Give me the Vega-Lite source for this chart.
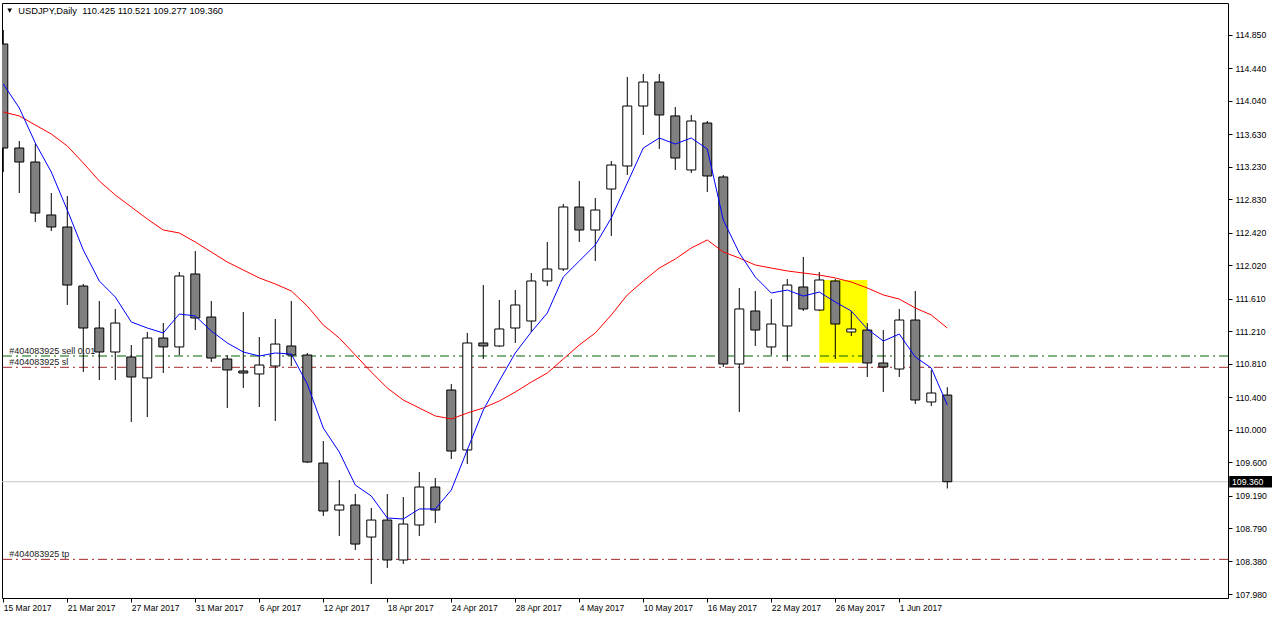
{
  "$schema": "https://vega.github.io/schema/vega-lite/v6.json",
  "autosize": "none",
  "width": 1226,
  "height": 595,
  "padding": {"left": 2, "top": 3, "right": 44, "bottom": 21},
  "background": "white",
  "config": {
    "view": {"stroke": "black", "strokeWidth": 1},
    "font": "Liberation Sans",
    "text": {"font": "Liberation Sans"},
    "axis": {"labelOverlap": false, "labelBound": false, "labelFlush": false, "grid": false, "domain": false, "title": null},
    "scale": {"continuousPadding": 0}
  },
  "datasets": {
    "bars": [
      {"i":0,"date":"2017-03-15","open":114.739,"high":114.911,"low":113.166,"close":113.461,"ma_fast":114.248,"ma_slow":113.904},
      {"i":1,"date":"2017-03-16","open":113.461,"high":113.547,"low":112.908,"close":113.289,"ma_fast":113.953,"ma_slow":113.855},
      {"i":2,"date":"2017-03-17","open":113.289,"high":113.510,"low":112.552,"close":112.662,"ma_fast":113.523,"ma_slow":113.744},
      {"i":3,"date":"2017-03-20","open":112.638,"high":112.908,"low":112.441,"close":112.490,"ma_fast":113.166,"ma_slow":113.633},
      {"i":4,"date":"2017-03-21","open":112.490,"high":112.871,"low":111.532,"close":111.777,"ma_fast":112.699,"ma_slow":113.486},
      {"i":5,"date":"2017-03-22","open":111.765,"high":111.790,"low":110.708,"close":111.249,"ma_fast":112.208,"ma_slow":113.277},
      {"i":6,"date":"2017-03-23","open":111.249,"high":111.581,"low":110.610,"close":110.954,"ma_fast":111.827,"ma_slow":113.056},
      {"i":7,"date":"2017-03-24","open":110.954,"high":111.483,"low":110.610,"close":111.310,"ma_fast":111.630,"ma_slow":112.884},
      {"i":8,"date":"2017-03-27","open":110.893,"high":111.040,"low":110.094,"close":110.647,"ma_fast":111.323,"ma_slow":112.736},
      {"i":9,"date":"2017-03-28","open":110.635,"high":111.200,"low":110.155,"close":111.126,"ma_fast":111.249,"ma_slow":112.589},
      {"i":10,"date":"2017-03-29","open":111.126,"high":111.310,"low":110.696,"close":111.016,"ma_fast":111.188,"ma_slow":112.453},
      {"i":11,"date":"2017-03-30","open":111.016,"high":111.937,"low":110.917,"close":111.888,"ma_fast":111.421,"ma_slow":112.417},
      {"i":12,"date":"2017-03-31","open":111.913,"high":112.195,"low":111.224,"close":111.372,"ma_fast":111.397,"ma_slow":112.306},
      {"i":13,"date":"2017-04-03","open":111.384,"high":111.581,"low":110.831,"close":110.880,"ma_fast":111.212,"ma_slow":112.183},
      {"i":14,"date":"2017-04-04","open":110.868,"high":110.917,"low":110.266,"close":110.733,"ma_fast":111.065,"ma_slow":112.060},
      {"i":15,"date":"2017-04-05","open":110.721,"high":111.446,"low":110.512,"close":110.696,"ma_fast":110.954,"ma_slow":111.962},
      {"i":16,"date":"2017-04-06","open":110.684,"high":111.138,"low":110.278,"close":110.794,"ma_fast":110.905,"ma_slow":111.864},
      {"i":17,"date":"2017-04-07","open":110.782,"high":111.360,"low":110.106,"close":111.052,"ma_fast":110.942,"ma_slow":111.790},
      {"i":18,"date":"2017-04-10","open":111.028,"high":111.581,"low":110.782,"close":110.917,"ma_fast":110.929,"ma_slow":111.704},
      {"i":19,"date":"2017-04-11","open":110.917,"high":110.942,"low":109.590,"close":109.602,"ma_fast":110.561,"ma_slow":111.519},
      {"i":20,"date":"2017-04-12","open":109.590,"high":109.860,"low":108.939,"close":109.000,"ma_fast":110.020,"ma_slow":111.286},
      {"i":21,"date":"2017-04-13","open":109.012,"high":109.381,"low":108.693,"close":109.074,"ma_fast":109.725,"ma_slow":111.126},
      {"i":22,"date":"2017-04-14","open":109.074,"high":109.209,"low":108.521,"close":108.594,"ma_fast":109.319,"ma_slow":110.917},
      {"i":23,"date":"2017-04-17","open":108.680,"high":109.037,"low":108.103,"close":108.889,"ma_fast":109.184,"ma_slow":110.708},
      {"i":24,"date":"2017-04-18","open":108.889,"high":109.209,"low":108.299,"close":108.398,"ma_fast":108.914,"ma_slow":110.512},
      {"i":25,"date":"2017-04-19","open":108.398,"high":109.172,"low":108.349,"close":108.840,"ma_fast":108.902,"ma_slow":110.364},
      {"i":26,"date":"2017-04-20","open":108.828,"high":109.479,"low":108.693,"close":109.295,"ma_fast":109.025,"ma_slow":110.266},
      {"i":27,"date":"2017-04-21","open":109.295,"high":109.406,"low":108.852,"close":109.012,"ma_fast":109.025,"ma_slow":110.168},
      {"i":28,"date":"2017-04-24","open":110.487,"high":110.561,"low":109.639,"close":109.737,"ma_fast":109.258,"ma_slow":110.131},
      {"i":29,"date":"2017-04-25","open":109.750,"high":111.188,"low":109.578,"close":111.065,"ma_fast":109.750,"ma_slow":110.204},
      {"i":30,"date":"2017-04-26","open":111.065,"high":111.777,"low":110.868,"close":111.028,"ma_fast":110.241,"ma_slow":110.266},
      {"i":31,"date":"2017-04-27","open":111.028,"high":111.593,"low":111.016,"close":111.237,"ma_fast":110.598,"ma_slow":110.352},
      {"i":32,"date":"2017-04-28","open":111.249,"high":111.716,"low":111.065,"close":111.532,"ma_fast":110.942,"ma_slow":110.462},
      {"i":33,"date":"2017-05-01","open":111.335,"high":111.925,"low":111.200,"close":111.827,"ma_fast":111.200,"ma_slow":110.585},
      {"i":34,"date":"2017-05-02","open":111.827,"high":112.306,"low":111.765,"close":111.974,"ma_fast":111.433,"ma_slow":110.696},
      {"i":35,"date":"2017-05-03","open":111.974,"high":112.773,"low":111.950,"close":112.736,"ma_fast":111.876,"ma_slow":110.868},
      {"i":36,"date":"2017-05-04","open":112.736,"high":113.056,"low":112.306,"close":112.453,"ma_fast":112.072,"ma_slow":111.040},
      {"i":37,"date":"2017-05-05","open":112.453,"high":112.847,"low":112.072,"close":112.699,"ma_fast":112.269,"ma_slow":111.188},
      {"i":38,"date":"2017-05-08","open":112.957,"high":113.301,"low":112.380,"close":113.252,"ma_fast":112.601,"ma_slow":111.409},
      {"i":39,"date":"2017-05-09","open":113.240,"high":114.334,"low":113.129,"close":113.977,"ma_fast":113.031,"ma_slow":111.655},
      {"i":40,"date":"2017-05-10","open":113.977,"high":114.371,"low":113.621,"close":114.272,"ma_fast":113.461,"ma_slow":111.827},
      {"i":41,"date":"2017-05-11","open":114.272,"high":114.371,"low":113.449,"close":113.867,"ma_fast":113.584,"ma_slow":111.986},
      {"i":42,"date":"2017-05-12","open":113.855,"high":113.965,"low":113.191,"close":113.338,"ma_fast":113.510,"ma_slow":112.097},
      {"i":43,"date":"2017-05-15","open":113.191,"high":113.867,"low":113.154,"close":113.793,"ma_fast":113.584,"ma_slow":112.232},
      {"i":44,"date":"2017-05-16","open":113.768,"high":113.793,"low":112.920,"close":113.117,"ma_fast":113.449,"ma_slow":112.331},
      {"i":45,"date":"2017-05-17","open":113.105,"high":113.129,"low":110.770,"close":110.807,"ma_fast":112.576,"ma_slow":112.183},
      {"i":46,"date":"2017-05-18","open":110.807,"high":111.741,"low":110.217,"close":111.483,"ma_fast":112.171,"ma_slow":112.109},
      {"i":47,"date":"2017-05-19","open":111.458,"high":111.704,"low":111.028,"close":111.224,"ma_fast":111.876,"ma_slow":112.023},
      {"i":48,"date":"2017-05-22","open":111.016,"high":111.605,"low":110.917,"close":111.298,"ma_fast":111.679,"ma_slow":111.986},
      {"i":49,"date":"2017-05-23","open":111.274,"high":111.851,"low":110.843,"close":111.777,"ma_fast":111.716,"ma_slow":111.950},
      {"i":50,"date":"2017-05-24","open":111.753,"high":112.122,"low":111.458,"close":111.483,"ma_fast":111.642,"ma_slow":111.925},
      {"i":51,"date":"2017-05-25","open":111.470,"high":111.937,"low":111.458,"close":111.839,"ma_fast":111.691,"ma_slow":111.900},
      {"i":52,"date":"2017-05-26","open":111.827,"high":111.851,"low":110.868,"close":111.298,"ma_fast":111.569,"ma_slow":111.864},
      {"i":53,"date":"2017-05-29","open":111.200,"high":111.458,"low":111.151,"close":111.237,"ma_fast":111.458,"ma_slow":111.814},
      {"i":54,"date":"2017-05-30","open":111.224,"high":111.310,"low":110.647,"close":110.819,"ma_fast":111.237,"ma_slow":111.741},
      {"i":55,"date":"2017-05-31","open":110.819,"high":111.224,"low":110.462,"close":110.770,"ma_fast":111.089,"ma_slow":111.655},
      {"i":56,"date":"2017-06-01","open":110.745,"high":111.483,"low":110.647,"close":111.347,"ma_fast":111.175,"ma_slow":111.605},
      {"i":57,"date":"2017-06-02","open":111.347,"high":111.704,"low":110.315,"close":110.364,"ma_fast":110.893,"ma_slow":111.495},
      {"i":58,"date":"2017-06-05","open":110.340,"high":110.733,"low":110.290,"close":110.450,"ma_fast":110.757,"ma_slow":111.409},
      {"i":59,"date":"2017-06-06","open":110.425,"high":110.521,"low":109.277,"close":109.360,"ma_fast":110.303,"ma_slow":111.249}
    ],
    "orders": [
      {"label": "#404083925 sell 0.01", "kind": "sell", "price": 110.905},
      {"label": "#404083925 sl", "kind": "sl", "price": 110.766},
      {"label": "#404083925 tp", "kind": "tp", "price": 108.406}
    ],
    "one": [{"symbol": "USDJPY", "period": "Daily", "bid": 109.36}]
  },
  "layer": [
    {
      "data": {"name": "one"},
      "mark": {"type": "rect", "color": "#ffff00", "clip": true},
      "encoding": {
        "x": {"datum": 51, "type": "quantitative",
          "scale": {"domain": [-0.081, 76.544], "nice": false, "zero": false, "padding": 0},
          "axis": {
            "orient": "bottom", "title": null, "grid": false, "domain": false,
            "values": [0,4,8,12,16,20,24,28,32,36,40,44,48,52,56], "tickCount": 200,
            "labelExpr": "['15 Mar 2017','21 Mar 2017','27 Mar 2017','31 Mar 2017','6 Apr 2017','12 Apr 2017','18 Apr 2017','24 Apr 2017','28 Apr 2017','4 May 2017','10 May 2017','16 May 2017','22 May 2017','26 May 2017','1 Jun 2017'][round(datum.value/4)]",
            "labelAlign": "left", "labelBaseline": "top", "labelPadding": 1,
            "labelFont": "Liberation Sans", "labelFontSize": 8.5, "labelColor": "black",
            "tickColor": "black", "tickSize": 4, "labelOverlap": false, "labelBound": false, "labelFlush": false
          }},
        "x2": {"datum": 54},
        "y": {"datum": 111.839, "type": "quantitative",
          "scale": {"domain": [107.931, 115.243], "nice": false, "zero": false, "padding": 0},
          "axis": {
            "orient": "right", "title": null, "grid": false, "domain": false,
            "values": [107.98,108.38,108.79,109.19,109.6,110.0,110.4,110.81,111.21,111.61,112.02,112.42,112.83,113.23,113.63,114.04,114.44,114.85], "tickCount": 200,
            "format": ".3f", "labelAlign": "left", "labelBaseline": "middle", "labelPadding": 3,
            "labelFont": "Liberation Sans", "labelFontSize": 8.7, "labelColor": "black",
            "tickColor": "black", "tickSize": 4, "labelOverlap": false, "labelBound": false, "labelFlush": false
          }},
        "y2": {"datum": 110.823}
      }
    },
    {
      "data": {"name": "orders"},
      "mark": {"type": "rule", "strokeWidth": 1, "strokeDash": [9, 4, 2, 4], "clip": true},
      "encoding": {
        "y": {"field": "price", "type": "quantitative"},
        "color": {"condition": {"test": "datum.kind == 'sell'", "value": "#006400"}, "value": "#a0282a"}
      }
    },
    {
      "data": {"name": "one"},
      "mark": {"type": "rule", "color": "#c8c8c8", "strokeWidth": 1, "clip": true},
      "encoding": {"y": {"field": "bid", "type": "quantitative"}}
    },
    {
      "data": {"name": "bars"},
      "mark": {"type": "rule", "color": "black", "strokeWidth": 1, "clip": true},
      "encoding": {
        "x": {"field": "i", "type": "quantitative"},
        "y": {"field": "low", "type": "quantitative"},
        "y2": {"field": "high"}
      }
    },
    {
      "data": {"name": "bars"},
      "mark": {"type": "bar", "size": 9, "stroke": "black", "strokeWidth": 1, "clip": true},
      "encoding": {
        "x": {"field": "i", "type": "quantitative"},
        "y": {"field": "open", "type": "quantitative"},
        "y2": {"field": "close"},
        "fill": {"condition": {"test": "datum.close < datum.open", "value": "#808080"}, "value": "#ffffff"}
      }
    },
    {
      "data": {"name": "bars"},
      "mark": {"type": "line", "color": "#ff0000", "strokeWidth": 1, "clip": true},
      "encoding": {
        "x": {"field": "i", "type": "quantitative"},
        "y": {"field": "ma_slow", "type": "quantitative"}
      }
    },
    {
      "data": {"name": "bars"},
      "mark": {"type": "line", "color": "#0000ff", "strokeWidth": 1, "clip": true},
      "encoding": {
        "x": {"field": "i", "type": "quantitative"},
        "y": {"field": "ma_fast", "type": "quantitative"}
      }
    },
    {
      "data": {"name": "orders"},
      "mark": {"type": "text", "align": "left", "baseline": "alphabetic", "dy": -2, "font": "Liberation Sans", "fontSize": 9, "color": "#222222"},
      "encoding": {
        "x": {"datum": 0.375},
        "y": {"field": "price", "type": "quantitative"},
        "text": {"field": "label"}
      }
    },
    {
      "data": {"name": "one"},
      "mark": {"type": "text", "align": "left", "baseline": "alphabetic", "font": "Liberation Sans", "fontSize": 9.3, "color": "black"},
      "encoding": {
        "x": {"datum": 0.9375},
        "y": {"datum": 115.108},
        "text": {"value": "USDJPY,Daily\u00a0\u00a0110.425 110.521 109.277 109.360"}
      }
    },
    {
      "data": {"name": "one"},
      "mark": {"type": "point", "shape": "triangle-down", "filled": true, "color": "black", "size": 22, "opacity": 1},
      "encoding": {
        "x": {"datum": 0.4},
        "y": {"datum": 115.149}
      }
    },
    {
      "data": {"name": "one"},
      "mark": {"type": "rect", "color": "black", "clip": false},
      "encoding": {
        "x": {"datum": 76.62},
        "x2": {"datum": 79.3},
        "y": {"datum": 109.43},
        "y2": {"datum": 109.29}
      }
    },
    {
      "data": {"name": "one"},
      "mark": {"type": "text", "align": "left", "baseline": "middle", "font": "Liberation Sans", "fontSize": 8.7, "color": "white", "dx": 4, "clip": false},
      "encoding": {
        "x": {"datum": 76.544},
        "y": {"field": "bid", "type": "quantitative"},
        "text": {"field": "bid", "type": "quantitative", "format": ".3f"}
      }
    }
  ]
}
